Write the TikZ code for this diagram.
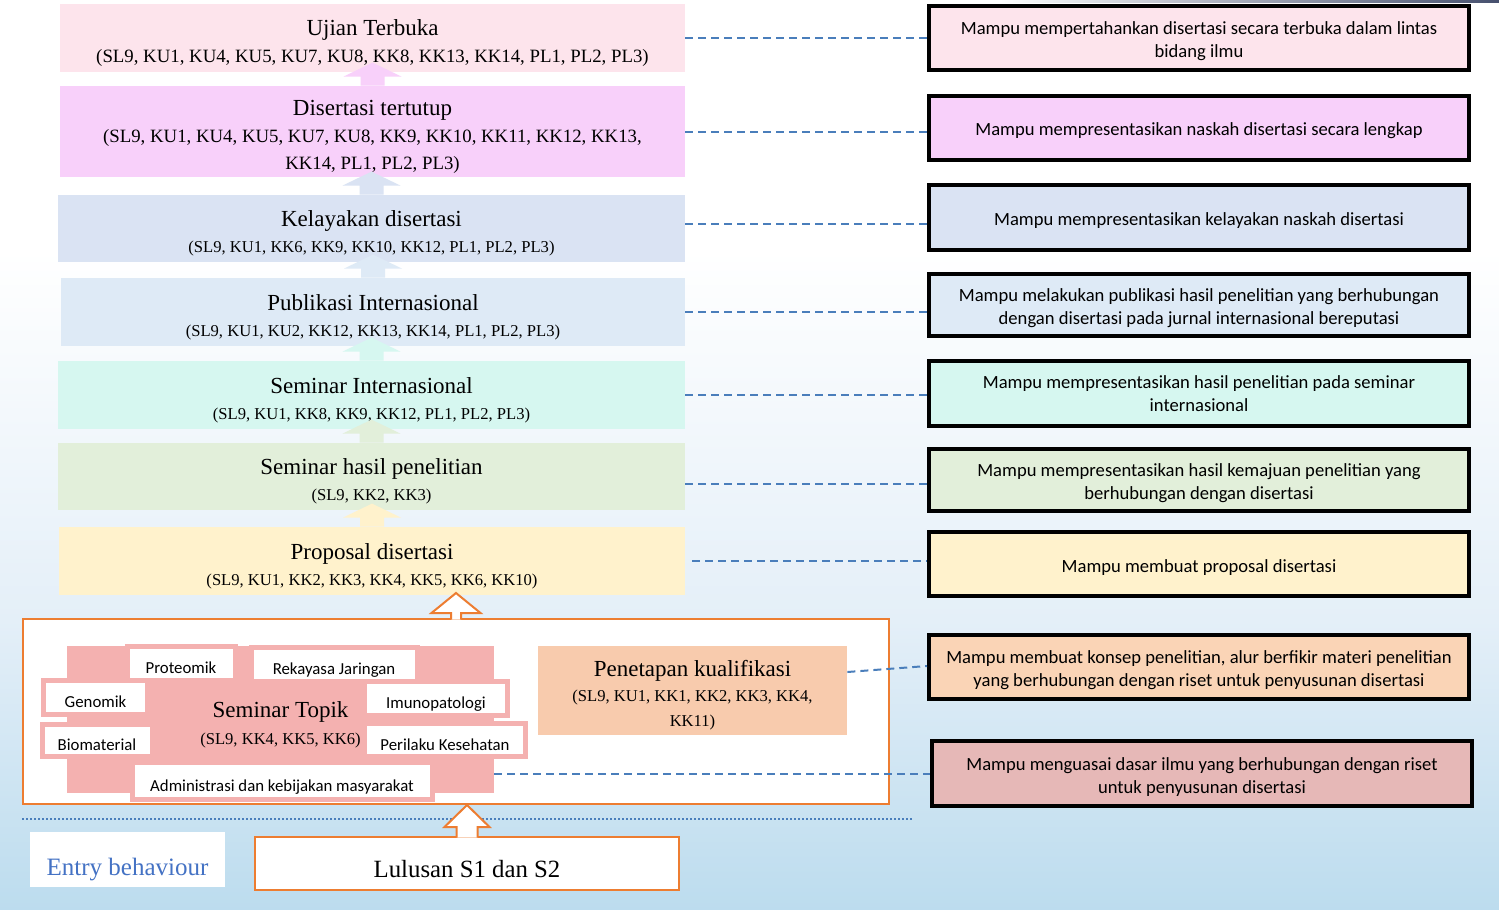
\documentclass[tikz,border=0pt]{standalone}
\usepackage{fontspec}
\setmainfont{Liberation Serif}
\newfontfamily\calibri{Carlito}
\usepackage{tikz}
\usetikzlibrary{calc}
\definecolor{cUt}{HTML}{FDE4EC}
\definecolor{cDt}{HTML}{F8D0FA}
\definecolor{cKd}{HTML}{DAE3F3}
\definecolor{cPi}{HTML}{DEEAF6}
\definecolor{cSi}{HTML}{D6F7F0}
\definecolor{cSh}{HTML}{E2EFDA}
\definecolor{cPd}{HTML}{FFF2CC}
\definecolor{cPk}{HTML}{F8CBAD}
\definecolor{cPk2}{HTML}{FAD4B6}
\definecolor{cSt}{HTML}{F4B1B0}
\definecolor{cSt2}{HTML}{E6B8B7}
\definecolor{orng}{HTML}{ED7D31}
\definecolor{lnk}{HTML}{4A7EBB}
\definecolor{entry}{HTML}{4472C4}
\definecolor{bgA}{HTML}{E4EFF8}
\definecolor{bgB}{HTML}{BCDCEE}
\definecolor{topln}{HTML}{46506E}
\newcommand{\boxtitle}{\fontsize{11.5}{13.5}\selectfont\rule{0pt}{13pt}}
\newcommand{\rs}{\rule{0pt}{9.5pt}}

\begin{document}
\begin{tikzpicture}[x=0.5pt,y=-0.5pt,
  lv/.style={align=center,inner sep=0pt,minimum width=312.5pt,font=\fontsize{8.3}{13}\selectfont},
  lvb/.style={lv,font=\fontsize{9.4}{13.5}\selectfont},
  rb/.style={draw=black,line width=2pt,minimum width=270pt,align=center,inner sep=0pt,font=\calibri\fontsize{9.3}{11.5}\selectfont},
  tp/.style={draw=cSt,line width=2.5pt,fill=white,inner sep=0pt,minimum height=17pt,text height=10pt,text depth=0pt,font=\calibri\fontsize{8.4}{10}\selectfont},
  ob/.style={draw=orng,line width=1pt,fill=white,inner sep=0pt},
  dl/.style={lnk,line width=1pt,dash pattern=on 4pt off 2.5pt}]
\useasboundingbox (0,0) rectangle (1499,910);
\fill[white] (0,0) rectangle (1499,250);
\shade[top color=white,bottom color=bgA] (0,250) rectangle (1499,620);
\shade[top color=bgA,bottom color=bgB] (0,620) rectangle (1499,910);
\shade[left color=white,right color=topln] (1000,0) rectangle (1499,2.5);

\node[lvb,fill=cUt,minimum height=34pt] (ut) at (372.5,38) {{\boxtitle Ujian Terbuka}\\(SL9, KU1, KU4, KU5, KU7, KU8, KK8, KK13, KK14, PL1, PL2, PL3)};
\node[lvb,fill=cDt,minimum height=45.5pt] (dt) at (372.5,131.5) {{\boxtitle Disertasi tertutup}\\(SL9, KU1, KU4, KU5, KU7, KU8, KK9, KK10, KK11, KK12, KK13,\\KK14, PL1, PL2, PL3)};
\node[lv,fill=cKd,minimum height=33.5pt,minimum width=313.5pt] (kd) at (371.5,228.5) {{\boxtitle Kelayakan disertasi}\\(SL9, KU1, KK6, KK9, KK10, KK12, PL1, PL2, PL3)};
\node[lv,fill=cPi,minimum height=34pt,minimum width=312pt] (pi) at (373,312) {{\boxtitle Publikasi Internasional}\\(SL9, KU1, KU2, KK12, KK13, KK14, PL1, PL2, PL3)};
\node[lv,fill=cSi,minimum height=34pt,minimum width=313.5pt] (si) at (371.5,395) {{\boxtitle Seminar Internasional}\\(SL9, KU1, KK8, KK9, KK12, PL1, PL2, PL3)};
\node[lv,fill=cSh,minimum height=33.5pt,minimum width=313.5pt] (sh) at (371.5,476.5) {{\boxtitle Seminar hasil penelitian}\\(SL9, KK2, KK3)};
\node[lv,fill=cPd,minimum height=34pt,minimum width=313pt] (pd) at (372,561) {{\boxtitle Proposal disertasi}\\(SL9, KU1, KK2, KK3, KK4, KK5, KK6, KK10)};

\foreach \lo/\cl in {dt/cDt,kd/cKd,pi/cPi,si/cSi,sh/cSh,pd/cPd}
  \fill[\cl] ($(\lo.north)+(-12,0)$) -- ++(0,-9) -- ++(-17,0) -- ++(29,-14) -- ++(29,14) -- ++(-17,0) -- ++(0,9) -- cycle;

\node[ob,minimum width=433pt,minimum height=92.5pt] (ct) at (456,711.5) {};
\node[lv,fill=cSt,minimum width=213.5pt,minimum height=73.5pt,font=\fontsize{8.3}{13.5}\selectfont] (st) at (280.5,719.5) {{\boxtitle Seminar Topik}\\(SL9, KK4, KK5, KK6)};
\node[tp,minimum width=54pt] (pr) at (181,663) {Proteomik};
\node[tp,minimum width=83pt] (rj) at (334,664.5) {Rekayasa Jaringan};
\node[tp,minimum width=52pt] (ge) at (95.5,697.5) {Genomik};
\node[tp,minimum width=71.5pt] (im) at (436,698.5) {Imunopatologi};
\node[tp,minimum width=55pt,minimum height=16pt] (bm) at (97,740.5) {Biomaterial};
\node[tp,minimum width=80.5pt,minimum height=16.75pt] (pk2) at (445,740) {Perilaku Kesehatan};
\node[tp,minimum width=150pt,minimum height=18.75pt] (ad) at (282,781) {Administrasi dan kebijakan masyarakat};
\node[lv,fill=cPk,minimum width=154.5pt,minimum height=44.5pt,font=\fontsize{8.3}{12.5}\selectfont] (pk) at (692.5,690.5) {{\boxtitle Penetapan kualifikasi}\\(SL9, KU1, KK1, KK2, KK3, KK4,\\KK11)};

\draw[lnk,line width=1pt,dash pattern=on 1pt off 1pt] (22,819) -- (912,819);
\node[ob,minimum width=212pt,minimum height=26.5pt,text height=13.5pt,text depth=0pt,font=\fontsize{12.4}{14}\selectfont] (lu) at (467,863.5) {Lulusan S1 dan S2};
\node[fill=white,inner sep=0pt,minimum width=97.5pt,minimum height=27.5pt,text height=18.6pt,text depth=2.7pt,text=entry,font=\fontsize{12.5}{14}\selectfont] (eb) at (127.5,859.5) {Entry behaviour};

\filldraw[fill=white,draw=orng,line width=1pt] ($(ct.north)+(-5,1.5)$) -- ++(0,-6.5) -- ++(-19.5,0) -- ++(24.5,-20) -- ++(24.5,20) -- ++(-19.5,0) -- ++(0,6.5);
\filldraw[fill=white,draw=orng,line width=1pt] ($(lu.north)+(-10.5,1.5)$) -- ++(0,-10.5) -- ++(-12,0) -- ++(22.5,-22) -- ++(22.5,22) -- ++(-12,0) -- ++(0,10.5);

\node[rb,fill=cUt,minimum height=32pt] (r1) at (1199,38) {\rs Mampu mempertahankan disertasi secara terbuka dalam lintas\\bidang ilmu};
\node[rb,fill=cDt,minimum height=32pt] (r2) at (1199,128) {\rs Mampu mempresentasikan naskah disertasi secara lengkap};
\node[rb,fill=cKd,minimum height=32.5pt] (r3) at (1199,217.5) {\rs Mampu mempresentasikan kelayakan naskah disertasi};
\node[rb,fill=cPi,minimum height=31pt] (r4) at (1199,305) {\rs Mampu melakukan publikasi hasil penelitian yang berhubungan\\dengan disertasi pada jurnal internasional bereputasi};
\node[rb,fill=cSi,minimum height=32.5pt] (r5) at (1199,393.5) {Mampu mempresentasikan hasil penelitian pada seminar\\internasional};
\node[rb,fill=cSh,minimum height=31pt] (r6) at (1199,480) {\rs Mampu mempresentasikan hasil kemajuan penelitian yang\\berhubungan dengan disertasi};
\node[rb,fill=cPd,minimum height=32pt] (r7) at (1199,564) {\rs Mampu membuat proposal disertasi};
\node[rb,fill=cPk2,minimum height=32pt] (r8) at (1199,667) {\rs Mampu membuat konsep penelitian, alur berfikir materi penelitian\\yang berhubungan dengan riset untuk penyusunan disertasi};
\node[rb,fill=cSt2,minimum height=32.5pt] (r9) at (1202,773.5) {\rs Mampu menguasai dasar ilmu yang berhubungan dengan riset\\untuk penyusunan disertasi};

\draw[dl] (ut.east) -- (r1.west);
\draw[dl] (dt.east) -- (dt.east -| r2.west);
\draw[dl] ([yshift=2.5pt]kd.east) -- ([yshift=2.5pt]kd.east -| r3.west);
\draw[dl] (pi.east) -- (pi.east -| r4.west);
\draw[dl] (si.east) -- (si.east -| r5.west);
\draw[dl] ([yshift=-3.5pt]sh.east) -- ([yshift=-3.5pt]sh.east -| r6.west);
\draw[dl] ([xshift=3.5pt]pd.east) -- (pd.east -| r7.west);
\draw[dl] ([yshift=9.25pt]pk.east) -- ([yshift=0.5pt]r8.west);
\draw[dl] ([yshift=-27pt]st.east) -- ([yshift=-27pt]st.east -| r9.west);
\end{tikzpicture}
\end{document}
